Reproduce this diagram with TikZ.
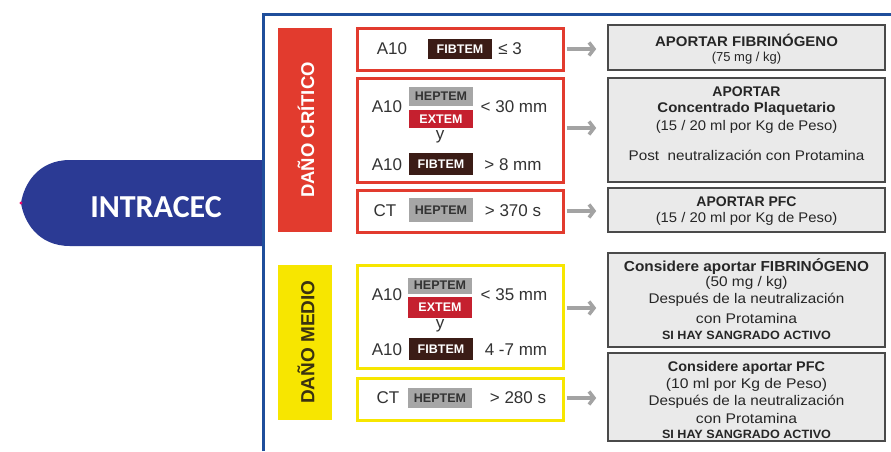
\documentclass[tikz,border=0pt]{standalone}
\usepackage{fontspec}
\usepackage{graphicx}
\setmainfont{Liberation Sans}
\newfontfamily\carlito{Carlito}
\usetikzlibrary{arrows.meta}
\definecolor{frameblue}{HTML}{1F4E9B}
\definecolor{intblue}{HTML}{2B3A94}
\definecolor{critred}{HTML}{E23B2E}
\definecolor{medyellow}{HTML}{F7E600}
\definecolor{fibbrown}{HTML}{3B1C16}
\definecolor{hepgray}{HTML}{A6A6A6}
\definecolor{hepdark}{HTML}{333333}
\definecolor{extred}{HTML}{C5202F}
\definecolor{ltgray}{HTML}{333333}
\definecolor{rfill}{HTML}{EAEAEA}
\definecolor{rborder}{HTML}{4A4A4A}
\definecolor{arrgray}{HTML}{A3A3A3}
\definecolor{medtext}{HTML}{3A3210}
\newcommand\sx[2]{\scalebox{#1}[1]{#2}}
\begin{document}
\begin{tikzpicture}[x=1pt,y=-1pt,
  redbox/.style={draw=critred, line width=3pt, fill=white, minimum width=206, minimum height=#1, inner sep=0},
  yelbox/.style={draw=medyellow, line width=3pt, fill=white, minimum width=206, minimum height=#1, inner sep=0},
  rbox/.style={draw=rborder, line width=1.6pt, fill=rfill, minimum width=277, minimum height=#1, inner sep=0},
  badge/.style={inner sep=0, minimum width=64, minimum height=#1, font=\fontsize{12.5}{12.5}\selectfont\bfseries},
  fib/.style={badge=#1, fill=fibbrown, text=white},
  hep/.style={badge=#1, fill=hepgray, text=hepdark},
  ext/.style={badge=#1, fill=extred, text=white},
  lt/.style={inner sep=0, text=ltgray, font=\fontsize{17}{17}\selectfont},
  rtb/.style={inner sep=0, text=black!85, font=\fontsize{#1}{#1}\selectfont\bfseries},
  rtr/.style={inner sep=0, text=black!85, font=\fontsize{#1}{#1}\selectfont},
  arr/.style={draw=arrgray, line width=3.5pt, -{Straight Barb[length=5pt,width=13pt]}, shorten <=2pt, shorten >=11pt}
]
\useasboundingbox (0,0) rectangle (891,451);
\fill[white] (0,0) rectangle (891,451);

% INTRACEC shape
\fill[intblue] (262,160) -- (70,160) .. controls (38,160) and (24,184) .. (21,203)
  .. controls (24,222) and (38,246) .. (70,246) -- (262,246) -- cycle;
\fill[magenta!70!red] (21,203) circle (1.6);
\node[inner sep=0, text=white, font=\carlito\fontsize{32}{32}\selectfont\bfseries] (intra) at (156,207) {INTRACEC};

% blue frame
\draw[frameblue, line width=3pt] (263.5,451) -- (263.5,14.5) -- (891,14.5);

% side bars
\node[fill=critred, minimum width=54, minimum height=204, inner sep=0] (barC) at (305,130) {};
\node[rotate=90, text=white, font=\fontsize{18.5}{18.5}\selectfont\bfseries, inner sep=0] (barCt) at (306,130) {DAÑO CRÍTICO};
\node[fill=medyellow, minimum width=54, minimum height=155, inner sep=0] (barM) at (305,342.5) {};
\node[rotate=90, text=medtext, font=\fontsize{19}{19}\selectfont\bfseries, inner sep=0] (barMt) at (306,342) {DAÑO MEDIO};

% left condition boxes
\node[redbox=42] (c1) at (460,49) {};
\node[redbox=104] (c2) at (460,130) {};
\node[redbox=42] (c3) at (460,211) {};
\node[yelbox=103] (c4) at (460,316.5) {};
\node[yelbox=42] (c5) at (460,399) {};

% box 1
\node[lt] (c1a) at (392,49) {A10};
\node[fib=20] (c1b) at (460,49) {FIBTEM};
\node[lt] (c1c) at (510,49) {≤ 3};
% box 2
\node[lt] (c2a) at (387,107) {A10};
\node[hep=19] (c2b) at (441,96.5) {HEPTEM};
\node[ext=18] (c2c) at (441,119) {EXTEM};
\node[lt] (c2d) at (514,107) {< 30 mm};
\node[lt] (c2e) at (440,137) {y};
\node[lt] (c2f) at (387,165) {A10};
\node[fib=22] (c2g) at (441,164) {FIBTEM};
\node[lt] (c2h) at (513,165) {> 8 mm};
% box 3
\node[lt] (c3a) at (385,211) {CT};
\node[hep=24] (c3b) at (441,210) {HEPTEM};
\node[lt] (c3c) at (513,211) {> 370 s};
% box 4
\node[lt] (c4a) at (387,295) {A10};
\node[hep=16] (c4b) at (440,285.5) {HEPTEM};
\node[ext=21] (c4c) at (440,307.5) {EXTEM};
\node[lt] (c4d) at (514,295) {< 35 mm};
\node[lt] (c4e) at (440,326) {y};
\node[lt] (c4f) at (387,350) {A10};
\node[fib=22] (c4g) at (441,349) {FIBTEM};
\node[lt] (c4h) at (516,350) {4 -7 mm};
% box 5
\node[lt] (c5a) at (388,398) {CT};
\node[hep=20] (c5b) at (440,398) {HEPTEM};
\node[lt] (c5c) at (518,398) {> 280 s};

% right result boxes
\node[rbox=45] (r1) at (746.5,47.5) {};
\node[rbox=104] (r2) at (746.5,130) {};
\node[rbox=44] (r3) at (746.5,210) {};
\node[rbox=94] (r4) at (746.5,300) {};
\node[rbox=88] (r5) at (746.5,397) {};

\node[rtb=14] (r1a) at (746.5,40) {\sx{1.07}{APORTAR FIBRINÓGENO}};
\node[rtr=13] (r1b) at (746.5,58) {(75 mg / kg)};

\node[rtb=14] (r2a) at (746.5,92) {APORTAR};
\node[rtb=14] (r2b) at (746.5,108.5) {\sx{1.07}{Concentrado Plaquetario}};
\node[rtr=14] (r2c) at (746.5,127) {\sx{1.06}{(15 / 20 ml por Kg de Peso)}};
\node[rtr=14] (r2d) at (746.5,155.5) {\sx{1.09}{Post \ neutralización con Protamina}};

\node[rtb=14] (r3a) at (746.5,202) {APORTAR PFC};
\node[rtr=14] (r3b) at (746.5,219) {\sx{1.06}{(15 / 20 ml por Kg de Peso)}};

\node[rtb=14.5] (r4a) at (746.5,267) {\sx{1.06}{Considere aportar FIBRINÓGENO}};
\node[rtr=14] (r4b) at (746.5,282.5) {\sx{1.1}{(50 mg / kg)}};
\node[rtr=14] (r4c) at (746.5,300) {\sx{1.09}{Después de la neutralización}};
\node[rtr=14] (r4d) at (746.5,318) {\sx{1.12}{con Protamina}};
\node[rtb=12] (r4e) at (746.5,335.5) {\sx{1.05}{SI HAY SANGRADO ACTIVO}};

\node[rtb=14] (r5a) at (746.5,368) {\sx{1.03}{Considere aportar PFC}};
\node[rtr=14] (r5b) at (746.5,385) {\sx{1.12}{(10 ml por Kg de Peso)}};
\node[rtr=14] (r5c) at (746.5,402) {\sx{1.09}{Después de la neutralización}};
\node[rtr=14] (r5d) at (746.5,418.5) {\sx{1.12}{con Protamina}};
\node[rtb=12] (r5e) at (746.5,434) {\sx{1.05}{SI HAY SANGRADO ACTIVO}};

% arrows
\draw[arr] (c1.east) -- (c1.east -| r1.west);
\draw[arr] ([yshift=2pt]c2.east) -- ([yshift=2pt]c2.east -| r2.west);
\draw[arr] (c3.east) -- (c3.east -| r3.west);
\draw[arr] ([yshift=8.5pt]c4.east) -- ([yshift=8.5pt]c4.east -| r4.west);
\draw[arr] ([yshift=1pt]c5.east) -- ([yshift=1pt]c5.east -| r5.west);
\end{tikzpicture}
\end{document}
